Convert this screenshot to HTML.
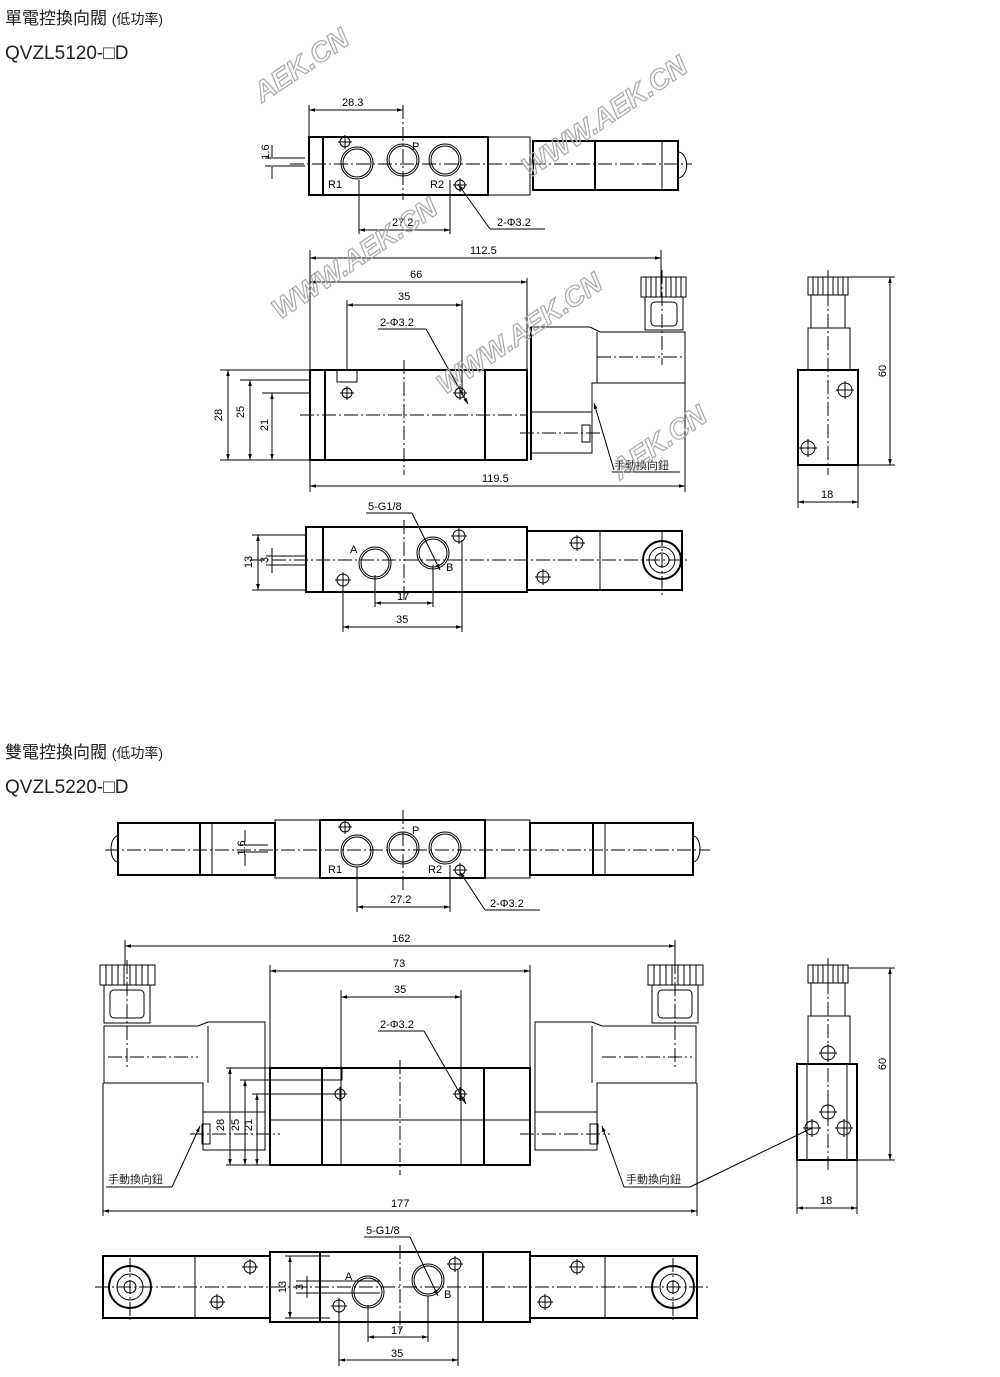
<!DOCTYPE html>
<html><head><meta charset="utf-8"><style>
html,body{margin:0;padding:0;background:#fff}
svg{display:block}
.t{font-family:"Liberation Sans","Noto Sans CJK TC",sans-serif;fill:#222}
</style></head><body>
<svg width="1000" height="1377" viewBox="0 0 1000 1377" xmlns="http://www.w3.org/2000/svg">
<defs>
<marker id="a" viewBox="0 0 10 10" refX="10" refY="5" markerWidth="6" markerHeight="6" orient="auto-start-reverse"><path d="M0,2L10,5L0,8z" fill="#000"/></marker>
</defs>
<style>
.o{fill:none;stroke:#000;stroke-width:2}
.l{fill:none;stroke:#000;stroke-width:1}
.c{fill:none;stroke:#000;stroke-width:1;stroke-dasharray:14 3 2 3}
.d{stroke:#000;stroke-width:1;marker-start:url(#a);marker-end:url(#a)}
.n{font-family:"Liberation Sans",sans-serif;font-size:11px;fill:#000}
.w{font-family:"Liberation Sans",sans-serif;font-weight:bold;font-style:italic;fill:none;stroke:#aaa;stroke-width:1.2}
</style>

<!-- Titles -->
<text x="5" y="24" class="t" font-size="17">單電控換向閥 <tspan font-size="14">(低功率)</tspan></text>
<text x="5" y="59" class="t" font-size="19">QVZL5120-□D</text>
<text x="5" y="758" class="t" font-size="17">雙電控換向閥 <tspan font-size="14">(低功率)</tspan></text>
<text x="5" y="793" class="t" font-size="19">QVZL5220-□D</text>

<!-- ============ TOP SINGLE: top view ============ -->
<rect x="309" y="137" width="179" height="58" class="o"/>
<line x1="323" y1="137" x2="323" y2="195" class="o"/>
<rect x="488" y="137" width="42" height="58" class="l"/>
<rect x="533" y="141" width="145" height="49" class="o"/>
<line x1="595" y1="141" x2="595" y2="190" class="o"/>
<line x1="662" y1="141" x2="662" y2="190" class="l"/>
<path d="M678,152 A8,12 0 0 1 678,178" class="l"/>
<line x1="290" y1="164" x2="692" y2="164" class="c"/>
<circle cx="357" cy="163" r="16" class="l"/><circle cx="357" cy="163" r="14" class="l"/>
<circle cx="403" cy="160" r="16" class="l"/><circle cx="403" cy="160" r="14" class="l"/>
<circle cx="445" cy="160" r="16" class="l"/><circle cx="445" cy="160" r="14" class="l"/>
<circle cx="345" cy="142" r="5" class="l"/><path d="M338,142h14M345,135v14" class="l"/>
<circle cx="460" cy="185" r="5" class="l"/><path d="M453,185h14M460,178v14" class="l"/>
<text x="412" y="150" class="n">P</text><text x="328" y="188" class="n">R1</text><text x="430" y="188" class="n">R2</text>
<line x1="403" y1="105" x2="403" y2="200" class="c"/>
<line x1="309" y1="105" x2="309" y2="137" class="l"/>
<line x1="309" y1="110" x2="403" y2="110" class="d"/><text x="342" y="106" class="n">28.3</text>
<line x1="359" y1="180" x2="359" y2="234" class="l"/><line x1="450" y1="180" x2="450" y2="234" class="l"/>
<line x1="359" y1="230" x2="450" y2="230" class="d"/><text x="392" y="226" class="n">27.2</text>
<line x1="458" y1="184" x2="490" y2="229" class="l" marker-start="url(#a)"/><line x1="490" y1="229" x2="545" y2="229" class="l"/>
<text x="497" y="226" class="n">2-Φ3.2</text>
<path d="M272,145v12M272,167v12M265,158h40M265,166h40" class="l"/>
<text transform="translate(269,152) rotate(-90)" class="n" text-anchor="middle">1.6</text>

<!-- ============ TOP SINGLE: front view ============ -->
<rect x="310" y="370" width="217" height="90" class="o"/>
<line x1="325" y1="370" x2="325" y2="460" class="o"/>
<line x1="485" y1="370" x2="485" y2="460" class="o"/>
<rect x="337" y="370" width="20" height="12" class="l"/>
<circle cx="347" cy="393" r="5" class="l"/><path d="M340,393h14M347,386v14" class="l"/>
<circle cx="460" cy="393" r="5" class="l"/><path d="M453,393h14M460,386v14" class="l"/>
<line x1="300" y1="415" x2="527" y2="415" class="c"/>
<line x1="404" y1="360" x2="404" y2="475" class="c"/>
<path d="M531,327 H590 L600,332 H685 V383 H592 V453 H531 Z" class="l" stroke-width="1.5"/>
<line x1="531" y1="327" x2="531" y2="460" class="o"/>
<line x1="597" y1="332" x2="597" y2="383" class="l"/>
<line x1="531" y1="412" x2="592" y2="412" class="l"/>
<rect x="582" y="425" width="8" height="17" class="l"/>
<line x1="520" y1="433" x2="600" y2="433" class="c"/>
<line x1="597" y1="357" x2="685" y2="357" class="c"/>
<rect x="641" y="277" width="45" height="20" class="l"/>
<path d="M646,277v20M651,277v20M656,277v20M661,277v20M666,277v20M671,277v20M676,277v20M681,277v20" class="l"/>
<rect x="645" y="297" width="38" height="33" class="l"/>
<rect x="651" y="302" width="26" height="24" rx="4" class="l"/>
<line x1="662" y1="270" x2="662" y2="365" class="c"/>
<line x1="685" y1="383" x2="685" y2="492" class="l"/>
<line x1="310" y1="250" x2="310" y2="492" class="l"/>
<line x1="661" y1="250" x2="661" y2="277" class="l"/>
<line x1="527" y1="278" x2="527" y2="370" class="l"/>
<line x1="347" y1="300" x2="347" y2="370" class="l"/>
<line x1="462" y1="300" x2="462" y2="395" class="l"/>
<line x1="310" y1="258" x2="661" y2="258" class="d"/><text x="470" y="254" class="n">112.5</text>
<line x1="310" y1="282" x2="527" y2="282" class="d"/><text x="410" y="278" class="n">66</text>
<line x1="347" y1="305" x2="462" y2="305" class="d"/><text x="398" y="300" class="n">35</text>
<line x1="310" y1="486" x2="685" y2="486" class="d"/><text x="482" y="482" class="n">119.5</text>
<text x="380" y="326" class="n">2-Φ3.2</text>
<line x1="378" y1="329" x2="426" y2="329" class="l"/>
<line x1="426" y1="329" x2="468" y2="404" class="l" marker-end="url(#a)"/>
<path d="M220,370H337M240,380H310M262,393H310M220,460H310" class="l"/>
<line x1="228" y1="370" x2="228" y2="460" class="d"/><text transform="translate(222,415) rotate(-90)" class="n" text-anchor="middle">28</text>
<line x1="250" y1="380" x2="250" y2="460" class="d"/><text transform="translate(244,412) rotate(-90)" class="n" text-anchor="middle">25</text>
<line x1="272" y1="393" x2="272" y2="460" class="d"/><text transform="translate(268,425) rotate(-90)" class="n" text-anchor="middle">21</text>
<line x1="594" y1="403" x2="614" y2="470" class="l" marker-start="url(#a)"/>
<text x="614" y="469" class="t" font-size="11">手動換向鈕</text>
<line x1="612" y1="472" x2="680" y2="472" class="l"/>

<!-- side view single -->
<rect x="808" y="277" width="40" height="18" class="l"/>
<path d="M813,277v18M818,277v18M823,277v18M828,277v18M833,277v18M838,277v18M843,277v18" class="l"/>
<rect x="811" y="295" width="34" height="33" class="l"/>
<rect x="808" y="328" width="42" height="42" class="l"/>
<rect x="798" y="370" width="60" height="95" class="o"/>
<circle cx="845" cy="390" r="7" class="l"/><path d="M836,390h18M845,381v18" class="l"/>
<circle cx="808" cy="448" r="7" class="l"/><path d="M799,448h18M808,439v18" class="l"/>
<line x1="828" y1="270" x2="828" y2="475" class="c"/>
<path d="M848,277H895M858,465H895" class="l"/>
<line x1="890" y1="277" x2="890" y2="465" class="d"/><text transform="translate(886,371) rotate(-90)" class="n" text-anchor="middle">60</text>
<path d="M798,465V508M858,465V508" class="l"/>
<line x1="798" y1="502" x2="858" y2="502" class="d"/><text x="821" y="498" class="n">18</text>

<!-- bottom view single -->
<rect x="306" y="527" width="221" height="65" class="o"/>
<line x1="323" y1="527" x2="323" y2="592" class="o"/>
<rect x="527" y="531" width="155" height="59" class="o"/>
<line x1="600" y1="531" x2="600" y2="590" class="l"/>
<line x1="250" y1="560" x2="690" y2="560" class="c"/>
<circle cx="375" cy="563" r="16" class="l"/><circle cx="375" cy="563" r="14" class="l"/>
<circle cx="433" cy="553" r="16" class="l"/><circle cx="433" cy="553" r="14" class="l"/>
<text x="350" y="553" class="n">A</text><text x="446" y="571" class="n">B</text>
<circle cx="459" cy="536" r="6" class="l"/><path d="M451,536h16M459,528v16" class="l"/>
<circle cx="343" cy="580" r="6" class="l"/><path d="M335,580h16M343,572v16" class="l"/>
<circle cx="577" cy="543" r="6" class="l"/><path d="M569,543h16M577,535v16" class="l"/>
<circle cx="543" cy="577" r="6" class="l"/><path d="M535,577h16M543,569v16" class="l"/>
<circle cx="662" cy="560" r="19" class="o"/><circle cx="662" cy="560" r="13" class="l"/><circle cx="662" cy="560" r="7" class="l"/>
<line x1="662" y1="532" x2="662" y2="596" class="c"/>
<line x1="404" y1="520" x2="404" y2="600" class="c"/>
<text x="368" y="510" class="n">5-G1/8</text><line x1="366" y1="513" x2="412" y2="513" class="l"/>
<line x1="412" y1="513" x2="440" y2="570" class="l" marker-end="url(#a)"/>
<path d="M375,575V607M433,565V607M343,586V632M462,540V632" class="l"/>
<line x1="375" y1="603" x2="433" y2="603" class="d"/><text x="397" y="600" class="n">17</text>
<line x1="343" y1="627" x2="462" y2="627" class="d"/><text x="396" y="623" class="n">35</text>
<path d="M252,535H306M266,556H306M266,565H306M252,590H306" class="l"/>
<line x1="258" y1="535" x2="258" y2="590" class="d"/><text transform="translate(252,562) rotate(-90)" class="n" text-anchor="middle">13</text>
<line x1="272" y1="548" x2="272" y2="573" class="l"/><text transform="translate(268,560) rotate(-90)" class="n" text-anchor="middle">3</text>

<!-- ============ DOUBLE: top view ============ -->
<rect x="320" y="820" width="165" height="58" class="o"/>
<rect x="275" y="820" width="45" height="58" class="l"/>
<rect x="485" y="820" width="45" height="58" class="l"/>
<rect x="118" y="823" width="157" height="52" class="o"/>
<line x1="200" y1="823" x2="200" y2="875" class="o"/><line x1="212" y1="823" x2="212" y2="875" class="l"/>
<rect x="530" y="823" width="163" height="52" class="o"/>
<line x1="593" y1="823" x2="593" y2="875" class="o"/><line x1="605" y1="823" x2="605" y2="875" class="l"/>
<path d="M118,836 A7,13 0 0 0 118,862" class="l"/><path d="M693,836 A7,13 0 0 1 693,862" class="l"/>
<line x1="105" y1="850" x2="710" y2="850" class="c"/>
<circle cx="357" cy="851" r="16" class="l"/><circle cx="357" cy="851" r="14" class="l"/>
<circle cx="403" cy="848" r="16" class="l"/><circle cx="403" cy="848" r="14" class="l"/>
<circle cx="445" cy="848" r="16" class="l"/><circle cx="445" cy="848" r="14" class="l"/>
<circle cx="345" cy="827" r="5" class="l"/><path d="M338,827h14M345,820v14" class="l"/>
<circle cx="460" cy="870" r="5" class="l"/><path d="M453,870h14M460,863v14" class="l"/>
<text x="412" y="834" class="n">P</text><text x="328" y="873" class="n">R1</text><text x="428" y="873" class="n">R2</text>
<line x1="403" y1="810" x2="403" y2="890" class="c"/>
<path d="M357,867V912M450,865V912" class="l"/>
<line x1="357" y1="907" x2="450" y2="907" class="d"/><text x="390" y="903" class="n">27.2</text>
<line x1="460" y1="872" x2="485" y2="910" class="l" marker-start="url(#a)"/><line x1="485" y1="910" x2="540" y2="910" class="l"/>
<text x="490" y="907" class="n">2-Φ3.2</text>
<path d="M245,830v12M245,854v12M238,845h30M238,852h30" class="l"/>
<text transform="translate(245,848) rotate(-90)" class="n" text-anchor="middle">1.6</text>

<!-- double front view -->
<rect x="270" y="1068" width="260" height="97" class="o"/>
<line x1="322" y1="1068" x2="322" y2="1165" class="o"/>
<line x1="484" y1="1068" x2="484" y2="1165" class="o"/>
<line x1="270" y1="1120" x2="530" y2="1120" class="l"/>
<rect x="322" y="1068" width="20" height="12" class="l"/>
<circle cx="340" cy="1094" r="5" class="l"/><path d="M333,1094h14M340,1087v14" class="l"/>
<circle cx="460" cy="1094" r="5" class="l"/><path d="M453,1094h14M460,1087v14" class="l"/>
<line x1="400" y1="1060" x2="400" y2="1175" class="c"/>
<!-- left solenoid -->
<path d="M265,1022 H208 L198,1026 H104 V1083 H203 V1150 H265 Z" class="l" stroke-width="1.5"/>
<line x1="208" y1="1026" x2="208" y2="1083" class="l"/>
<line x1="203" y1="1112" x2="265" y2="1112" class="l"/>
<rect x="202" y="1124" width="8" height="20" class="l"/>
<line x1="108" y1="1057" x2="198" y2="1057" class="c"/>
<line x1="190" y1="1134" x2="280" y2="1134" class="c"/>
<rect x="100" y="965" width="55" height="20" class="l"/>
<path d="M106,965v20M112,965v20M118,965v20M124,965v20M130,965v20M136,965v20M142,965v20M148,965v20" class="l"/>
<rect x="104" y="985" width="46" height="38" class="l"/>
<rect x="110" y="990" width="34" height="28" rx="4" class="l"/>
<line x1="127" y1="960" x2="127" y2="1070" class="c"/>
<!-- right solenoid -->
<path d="M535,1022 H592 L602,1026 H696 V1083 H597 V1150 H535 Z" class="l" stroke-width="1.5"/>
<line x1="592" y1="1026" x2="592" y2="1083" class="l"/>
<line x1="535" y1="1112" x2="597" y2="1112" class="l"/>
<rect x="590" y="1124" width="8" height="20" class="l"/>
<line x1="602" y1="1057" x2="692" y2="1057" class="c"/>
<line x1="520" y1="1134" x2="610" y2="1134" class="c"/>
<rect x="648" y="965" width="55" height="20" class="l"/>
<path d="M654,965v20M660,965v20M666,965v20M672,965v20M678,965v20M684,965v20M690,965v20M696,965v20" class="l"/>
<rect x="652" y="985" width="46" height="38" class="l"/>
<rect x="658" y="990" width="34" height="28" rx="4" class="l"/>
<line x1="675" y1="960" x2="675" y2="1070" class="c"/>
<!-- dims -->
<path d="M125,940V965M675,940V965M270,965V1068M530,965V1068M341,990V1165M461,990V1165M103,1083V1216M697,1083V1216" class="l"/>
<line x1="125" y1="946" x2="675" y2="946" class="d"/><text x="392" y="942" class="n">162</text>
<line x1="270" y1="971" x2="530" y2="971" class="d"/><text x="393" y="967" class="n">73</text>
<line x1="341" y1="997" x2="461" y2="997" class="d"/><text x="394" y="993" class="n">35</text>
<line x1="103" y1="1211" x2="697" y2="1211" class="d"/><text x="391" y="1207" class="n">177</text>
<text x="380" y="1028" class="n">2-Φ3.2</text><line x1="378" y1="1031" x2="424" y2="1031" class="l"/>
<line x1="424" y1="1031" x2="466" y2="1104" class="l" marker-end="url(#a)"/>
<path d="M226,1068H270M240,1080H322M252,1094H335M226,1165H270" class="l"/>
<line x1="230" y1="1068" x2="230" y2="1165" class="d"/><text transform="translate(224,1125) rotate(-90)" class="n" text-anchor="middle">28</text>
<line x1="245" y1="1080" x2="245" y2="1165" class="d"/><text transform="translate(239,1125) rotate(-90)" class="n" text-anchor="middle">25</text>
<line x1="257" y1="1094" x2="257" y2="1165" class="d"/><text transform="translate(252,1125) rotate(-90)" class="n" text-anchor="middle">21</text>
<text x="108" y="1183" class="t" font-size="11">手動換向鈕</text>
<line x1="106" y1="1187" x2="172" y2="1187" class="l"/><line x1="172" y1="1187" x2="200" y2="1126" class="l" marker-end="url(#a)"/>
<text x="626" y="1183" class="t" font-size="11">手動換向鈕</text>
<line x1="624" y1="1187" x2="690" y2="1187" class="l"/><line x1="624" y1="1187" x2="602" y2="1126" class="l" marker-end="url(#a)"/>
<line x1="690" y1="1187" x2="812" y2="1128" class="l"/>

<!-- double side view -->
<rect x="808" y="965" width="40" height="18" class="l"/>
<path d="M813,965v18M818,965v18M823,965v18M828,965v18M833,965v18M838,965v18M843,965v18" class="l"/>
<rect x="811" y="983" width="34" height="33" class="l"/>
<rect x="808" y="1016" width="42" height="48" class="l"/>
<rect x="797" y="1064" width="60" height="96" class="o"/>
<line x1="807" y1="1064" x2="807" y2="1160" class="l"/><line x1="847" y1="1064" x2="847" y2="1160" class="l"/>
<circle cx="828" cy="1053" r="7" class="l"/><path d="M819,1053h18M828,1044v18" class="l"/>
<circle cx="828" cy="1112" r="7" class="l"/><path d="M819,1112h18M828,1103v18" class="l"/>
<circle cx="812" cy="1128" r="7" class="l"/><path d="M803,1128h18M812,1119v18" class="l"/>
<circle cx="844" cy="1128" r="7" class="l"/><path d="M835,1128h18M844,1119v18" class="l"/>
<line x1="828" y1="958" x2="828" y2="1170" class="c"/>
<path d="M848,968H895M857,1160H895" class="l"/>
<line x1="890" y1="968" x2="890" y2="1160" class="d"/><text transform="translate(886,1064) rotate(-90)" class="n" text-anchor="middle">60</text>
<path d="M797,1160V1214M857,1160V1214" class="l"/>
<line x1="797" y1="1208" x2="857" y2="1208" class="d"/><text x="820" y="1204" class="n">18</text>

<!-- double bottom view -->
<rect x="270" y="1252" width="260" height="70" class="o"/>
<line x1="320" y1="1252" x2="320" y2="1322" class="o"/>
<line x1="483" y1="1252" x2="483" y2="1322" class="o"/>
<rect x="103" y="1256" width="167" height="62" class="o"/>
<line x1="195" y1="1256" x2="195" y2="1318" class="l"/>
<rect x="530" y="1256" width="167" height="62" class="o"/>
<line x1="605" y1="1256" x2="605" y2="1318" class="l"/>
<line x1="95" y1="1287" x2="710" y2="1287" class="c"/>
<circle cx="368" cy="1292" r="16" class="l"/><circle cx="368" cy="1292" r="14" class="l"/>
<circle cx="428" cy="1280" r="16" class="l"/><circle cx="428" cy="1280" r="14" class="l"/>
<text x="345" y="1280" class="n">A</text><text x="444" y="1298" class="n">B</text>
<circle cx="455" cy="1264" r="6" class="l"/><path d="M447,1264h16M455,1256v16" class="l"/>
<circle cx="339" cy="1306" r="6" class="l"/><path d="M331,1306h16M339,1298v16" class="l"/>
<circle cx="250" cy="1267" r="6" class="l"/><path d="M242,1267h16M250,1259v16" class="l"/>
<circle cx="217" cy="1302" r="6" class="l"/><path d="M209,1302h16M217,1294v16" class="l"/>
<circle cx="577" cy="1267" r="6" class="l"/><path d="M569,1267h16M577,1259v16" class="l"/>
<circle cx="545" cy="1302" r="6" class="l"/><path d="M537,1302h16M545,1294v16" class="l"/>
<circle cx="130" cy="1287" r="21" class="o"/><circle cx="130" cy="1287" r="13" class="l"/><circle cx="130" cy="1287" r="6" class="l"/>
<circle cx="673" cy="1287" r="21" class="o"/><circle cx="673" cy="1287" r="13" class="l"/><circle cx="673" cy="1287" r="6" class="l"/>
<line x1="130" y1="1258" x2="130" y2="1320" class="c"/><line x1="673" y1="1258" x2="673" y2="1320" class="c"/>
<line x1="400" y1="1245" x2="400" y2="1330" class="c"/>
<text x="366" y="1234" class="n">5-G1/8</text><line x1="364" y1="1237" x2="410" y2="1237" class="l"/>
<line x1="410" y1="1237" x2="438" y2="1296" class="l" marker-end="url(#a)"/>
<path d="M368,1305V1342M428,1296V1342M339,1312V1366M458,1270V1366" class="l"/>
<line x1="368" y1="1337" x2="428" y2="1337" class="d"/><text x="391" y="1334" class="n">17</text>
<line x1="339" y1="1360" x2="458" y2="1360" class="d"/><text x="391" y="1357" class="n">35</text>
<path d="M285,1256H330M296,1281H380M296,1293H380M285,1318H330" class="l"/>
<line x1="290" y1="1256" x2="290" y2="1318" class="d"/><text transform="translate(286,1287) rotate(-90)" class="n" text-anchor="middle">13</text>
<line x1="307" y1="1276" x2="307" y2="1298" class="l"/><text transform="translate(303,1287) rotate(-90)" class="n" text-anchor="middle">3</text>

<!-- watermarks -->
<text x="0" y="0" transform="translate(262,103) rotate(-34)" class="w" font-size="28">AEK.CN</text>
<text x="0" y="0" transform="translate(530,178) rotate(-34)" class="w" font-size="28">WWW.AEK.CN</text>
<text x="0" y="0" transform="translate(280,320) rotate(-34)" class="w" font-size="28">WWW.AEK.CN</text>
<text x="0" y="0" transform="translate(445,395) rotate(-34)" class="w" font-size="28">WWW.AEK.CN</text>
<text x="0" y="0" transform="translate(620,480) rotate(-34)" class="w" font-size="28">AEK.CN</text>
</svg>
</body></html>
